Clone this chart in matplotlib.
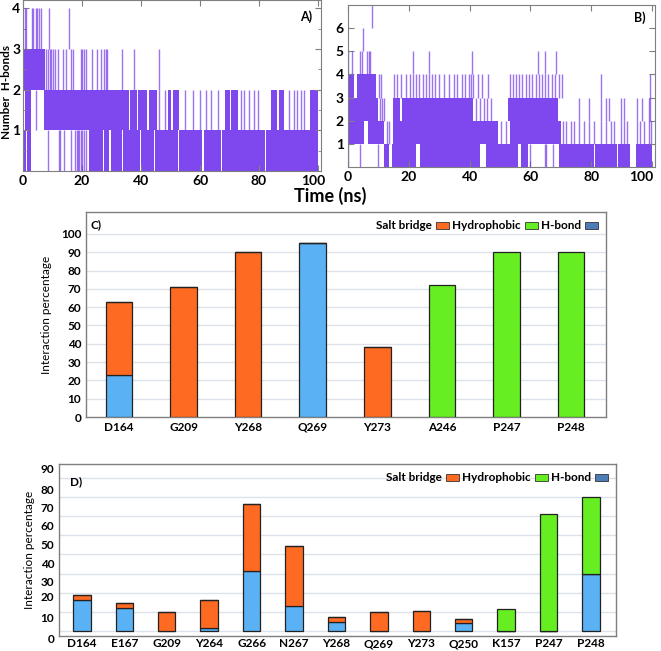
import matplotlib
matplotlib.use('Agg')
import matplotlib.pyplot as plt
import matplotlib.transforms as mtransforms
from matplotlib.patches import Patch

plt.rcParams['font.family'] = ['Lato', 'DejaVu Sans']
plt.rcParams['font.weight'] = 'bold'

# ---- H-bond time series ----
# spans (start, end) in ns where the count flickers densely through band lvl..lvl+1
# hits: single frames reaching into that band
a_band_0 = [(0.1, 0.9), (1.3, 2.8), (22.3, 27.0), (27.4, 29.3), (29.7, 33.5), (33.9, 39.5),
            (39.9, 44.5), (44.9, 52.4), (52.8, 60.8), (61.2, 67.0), (67.4, 82.1), (82.5, 100.0)]
a_band_1 = [(0.0, 0.5), (0.8, 2.8), (7.1, 35.8), (36.3, 38.5), (39.0, 42.0), (42.6, 45.5),
            (49.0, 50.2), (51.0, 52.8), (68.6, 70.0), (70.6, 73.0), (84.0, 86.0), (86.6, 88.6),
            (97.2, 99.9)]
a_band_2 = [(0.1, 7.3)]
a_band_3 = []
a_hits_0 = [8.4, 12.2, 12.5, 14.0, 16.2, 17.7, 18.3, 18.7, 19.0, 19.6, 20.1, 20.7, 21.5]
a_hits_1 = [4.5, 46.0, 48.1, 54.8, 57.6, 59.9, 62.1, 63.8, 66.0, 73.9, 75.0, 76.7, 78.4,
            79.5, 90.2, 91.9, 93.0, 94.1, 95.2]
a_hits_2 = [7.8, 8.4, 9.0, 9.6, 10.1, 10.9, 11.8, 13.4, 14.6, 16.2, 16.8, 19.6, 20.1, 20.7,
            21.5, 23.5, 25.2, 26.3, 27.4, 28.0, 28.5, 33.6, 37.5, 46.1]
a_hits_3 = [0.6, 1.1, 2.9, 3.3, 4.3, 4.8, 5.4, 6.2, 8.7, 15.7]

b_band_0 = [(12.0, 13.6), (14.6, 22.5), (23.8, 43.4), (45.3, 56.0), (57.0, 59.2), (69.5, 80.8),
            (81.3, 88.4), (88.9, 92.9), (94.8, 100.0)]
b_band_1 = [(0.1, 5.4), (6.6, 12.0), (14.7, 49.5), (53.3, 70.0)]
b_band_2 = [(0.1, 9.9), (14.8, 17.0), (17.8, 41.0), (52.8, 69.0)]
b_band_3 = [(0.2, 2.0), (2.8, 9.3)]
b_hits_0 = [0.1, 4.1, 9.9, 59.8, 64.7, 65.2, 67.4]
b_hits_1 = [12.8, 13.5, 50.2, 52.0, 70.7, 71.8, 73.4, 74.5, 76.1, 77.7, 79.4, 81.0, 83.2, 84.8,
            86.4, 87.5, 89.7, 90.8, 91.9, 95.1, 96.2, 97.3, 98.9, 99.8]
b_hits_2 = [10.5, 11.2, 12.0, 42.0, 43.5, 44.7, 45.8, 47.2, 76.1, 79.4, 83.2, 84.8, 85.9,
            89.7, 90.8, 95.1, 96.7, 98.9, 99.5]
b_hits_3 = [10.2, 11.0, 15.0, 16.2, 17.3, 19.0, 20.3, 21.4, 22.4, 23.5, 24.6, 25.5, 26.5,
            27.6, 28.5, 30.1, 31.5, 33.2, 34.8, 36.0, 37.4, 38.6, 39.9, 40.6, 41.2, 42.8,
            44.0, 46.0, 53.4, 54.3, 55.4, 56.2, 57.3, 58.4, 59.4, 60.5, 61.7, 62.8, 63.9,
            64.8, 65.9, 67.0, 68.2, 69.3, 70.3, 83.2, 99.5]
b_hits_4 = [0.1, 1.2, 3.9, 4.5, 6.1, 7.0, 7.4, 21.3, 26.7, 40.8, 62.5, 64.7, 68.5]
b_hits_5 = [5.0]
b_hits_6 = [8.0]

# ---- interaction percentages ----
c_residues = ['D164', 'G209', 'Y268', 'Q269', 'Y273', 'A246', 'P247', 'P248']
c_hbond = [23, 0, 0, 95, 0, 0, 0, 0]
c_hydrophobic = [40, 71, 90, 0, 38, 0, 0, 0]
c_other = [0, 0, 0, 0, 0, 72, 90, 90]

d_residues = ['D164', 'E167', 'G209', 'Y264', 'G266', 'N267', 'Y268', 'Q269', 'Y273',
              'Q250', 'K157', 'P247', 'P248']
d_hbond = [16, 12, 0, 1.6, 31.5, 13, 4.7, 0, 0, 4.4, 0, 0, 30]
d_hydrophobic = [2.7, 2.6, 10, 14.5, 35, 31.5, 2.5, 10, 10.7, 2.1, 0, 0, 0]
d_other = [0, 0, 0, 0, 0, 0, 0, 0, 0, 0, 11.7, 61, 40]

purple = '#7438ee'
orange = '#ff6a22'
blue = '#5ab2f4'
green = '#66ee22'
legend_blue = '#4d7cb6'
frame = '#7f7f7f'

W, H = 661, 651
fig = plt.figure(figsize=(W / 100, H / 100), dpi=100)


def box(left, top, right, bottom):
    return fig.add_axes([left / W, 1 - bottom / H, (right - left) / W, (bottom - top) / H])


def draw_hbonds(ax, bands, hits):
    for lvl, sp in enumerate(bands):
        if sp:
            ax.broken_barh([(s, e - s) for s, e in sp], (lvl, 1),
                           facecolors=purple, edgecolor='none', alpha=0.92)
    for lvl, ts in enumerate(hits):
        ax.vlines(ts, lvl, lvl + 1, color=purple, lw=1.0, alpha=0.7)
    ax.set_xlim(0, 101)
    ax.set_xticks([0, 20, 40, 60, 80, 100])
    ax.tick_params(axis='both', which='both', direction='in', top=True, right=True,
                   color=frame, labelsize=10, pad=3)
    ax.tick_params(which='major', length=4)
    ax.tick_params(which='minor', length=2.5)
    for s in ax.spines.values():
        s.set_color(frame)
        s.set_linewidth(0.8)


def nudge_last_xlabel(ax, dx_px):
    lab = ax.xaxis.get_major_ticks()[-1].label1
    lab.set_transform(lab.get_transform() +
                      mtransforms.ScaledTranslation(dx_px / 100, 0, fig.dpi_scale_trans))


# panel A
axa = box(23, 0, 321, 171)
draw_hbonds(axa, [a_band_0, a_band_1, a_band_2, a_band_3],
            [a_hits_0, a_hits_1, a_hits_2, a_hits_3])
axa.set_ylim(0, 4.2)
axa.set_yticks([1, 2, 3, 4])
axa.set_yticks([0.5, 1.5, 2.5, 3.5], minor=True)
axa.tick_params(axis='y', pad=2)
nudge_last_xlabel(axa, -5)
fig.text(7 / W, 1 - 92 / H, 'Number  H-bonds', rotation=90, ha='center', va='center',
         fontsize=8.5)
axa.text(0.97, 0.9, 'A)', transform=axa.transAxes, ha='right', va='center', fontsize=9)

# panel B
axb = box(348, 5, 655, 167)
draw_hbonds(axb, [b_band_0, b_band_1, b_band_2, b_band_3],
            [b_hits_0, b_hits_1, b_hits_2, b_hits_3, b_hits_4, b_hits_5, b_hits_6])
axb.set_ylim(0, 7)
axb.set_yticks([1, 2, 3, 4, 5, 6])
nudge_last_xlabel(axb, -11)
axb.text(0.97, 0.92, 'B)', transform=axb.transAxes, ha='right', va='center', fontsize=9)

fig.text(330 / W, 1 - 196 / H, 'Time (ns)', ha='center', va='center', fontsize=13)


def draw_bars(ax, residues, hb, hp, ot):
    x = range(len(residues))
    ax.bar(x, hb, width=0.41, color=blue, edgecolor='#222222', lw=0.9, zorder=3)
    ax.bar(x, hp, width=0.41, bottom=hb, color=orange, edgecolor='#222222', lw=0.9, zorder=3)
    bot = [a + b for a, b in zip(hb, hp)]
    ax.bar(x, ot, width=0.41, bottom=bot, color=green, edgecolor='#222222', lw=0.9, zorder=3)
    ax.set_xticks(list(x))
    ax.set_xticklabels(residues)
    ax.tick_params(axis='both', length=0, labelsize=8.5)
    for s in ax.spines.values():
        s.set_color(frame)
        s.set_linewidth(1.0)
    ax.set_ylabel('Interaction percentage', fontsize=8.5)
    handles = [Patch(facecolor=orange, edgecolor='#333333', lw=0.6),
               Patch(facecolor=green, edgecolor='#333333', lw=0.6),
               Patch(facecolor=legend_blue, edgecolor='#333333', lw=0.6)]
    ax.legend(handles, ['Salt bridge', 'Hydrophobic', 'H-bond'], ncol=3, markerfirst=False,
              loc='upper right', frameon=False, fontsize=8.5, handlelength=1.1,
              handleheight=0.55, handletextpad=0.3, columnspacing=0.3,
              borderaxespad=0.3)


# panel C
axc = box(86, 212, 606, 417)
draw_bars(axc, c_residues, c_hbond, c_hydrophobic, c_other)
axc.set_xlim(-0.51, 7.54)
axc.set_ylim(0, 112)
axc.set_yticks(range(0, 101, 10))
axc.tick_params(axis='x', pad=3.5)
for g in range(10, 101, 10):
    axc.axhline(g, color='#dde2ea', lw=1.0, zorder=1)
axc.yaxis.labelpad = 6
axc.text(0.008, 0.94, 'C)', transform=axc.transAxes, ha='left', va='center', fontsize=8.5)

# panel D
axd = box(59, 464, 616, 636)
draw_bars(axd, d_residues, d_hbond, d_hydrophobic, d_other)
axd.set_xlim(-0.54, 12.59)
axd.set_ylim(-2.6, 87.2)
axd.tick_params(axis='x', pad=1.5)
for g in range(0, 81, 10):
    axd.axhline(g, color='#dde2ea', lw=1.0, zorder=1)
# tick labels sit a little off the grid in the original
d_label_pos = [7.3, 17.8, 25.7, 35.3, 45.3, 54.9, 64.5, 74.1, 85.1]
axd.set_yticks(d_label_pos)
axd.set_yticklabels(['10', '20', '30', '40', '50', '60', '70', '80', '90'])
axd.text(-0.0075, -0.018, '0', transform=axd.transAxes, ha='right', va='center', fontsize=8.5)
axd.yaxis.labelpad = 4
axd.text(0.02, 0.9, 'D)', transform=axd.transAxes, ha='left', va='center', fontsize=8.5)

fig.savefig('out.png', dpi=100)
